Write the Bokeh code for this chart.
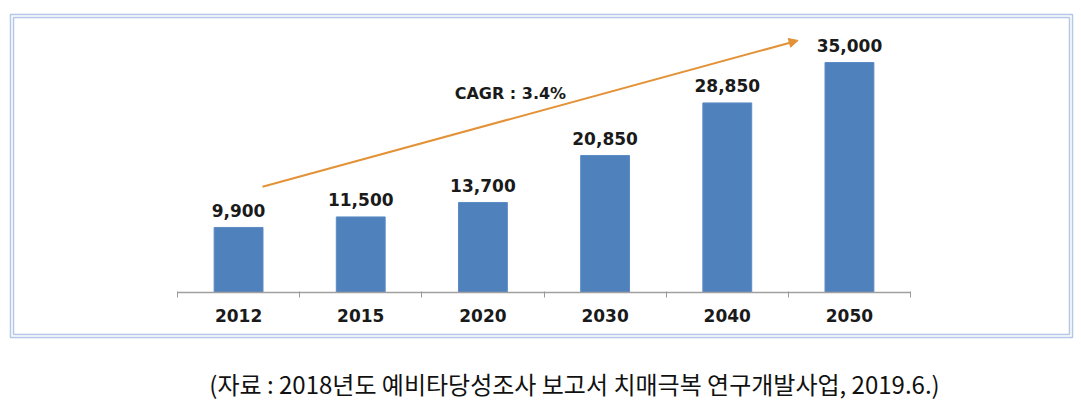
from bokeh.plotting import figure
from bokeh.models import (ColumnDataSource, FixedTicker, Range1d, Label, Arrow,
                          NormalHead, BoxAnnotation)
from bokeh.core.properties import value
from bokeh.embed import file_html
from bokeh.resources import INLINE

# ---- data ----
years = ["2012", "2015", "2020", "2030", "2040", "2050"]
patients = [9900, 11500, 13700, 20850, 28850, 35000]
value_labels = ["9,900", "11,500", "13,700", "20,850", "28,850", "35,000"]
cagr_text = "CAGR : 3.4%"
footnote = "(자료 : 2018년도 예비타당성조사 보고서 치매극복 연구개발사업, 2019.6.)"

# arrow annotation endpoints (data units)
arrow_start = (0.696, 16100)
arrow_end = (5.08, 38350)
cagr_pos = (2.725, 30300)

xc = [i + 0.5 for i in range(len(years))]
src = ColumnDataSource(dict(x=xc, top=patients, lab=value_labels))

W, H = 1081, 401
# frame covers whole canvas; category axis drawn at y=0 inside it
p = figure(width=W, height=H, output_backend="svg", toolbar_location=None,
           x_range=Range1d(-1.4485, 7.3993), y_range=Range1d(-16588, 44438),
           y_axis_location=None, min_border=0)
p.outline_line_color = None
p.grid.visible = False
p.background_fill_color = "white"
p.border_fill_color = "white"

# double frame border (screen units from frame bottom-left)
for (l, t, r, b) in [(10, 387, 1072, 64), (13, 384, 1069, 67)]:
    p.add_layout(BoxAnnotation(left=l, right=r, top=t, bottom=b,
                               left_units="screen", right_units="screen",
                               top_units="screen", bottom_units="screen",
                               fill_alpha=0, line_color="#B4C7E7",
                               line_width=1.5, line_alpha=1,
                               level="underlay"))

p.vbar(x="x", top="top", width=0.4, source=src, fill_color="#4F81BD",
       line_color="#5B8BC5", line_width=1)

p.text(x="x", y="top", text="lab", source=src, text_align="center",
       text_baseline="alphabetic", y_offset=-17,
       text_font=value("DejaVu Sans"), text_font_style="bold",
       text_font_size="17px", text_color="#1a1a1a")

ax = p.xaxis[0]
ax.fixed_location = 0
ax.bounds = (0, 6)
ax.ticker = FixedTicker(ticks=xc, minor_ticks=list(range(7)))
ax.major_label_overrides = {x: y for x, y in zip(xc, years)}
ax.major_tick_in = 0
ax.major_tick_out = 0
ax.minor_tick_in = 1
ax.minor_tick_out = 5
ax.minor_tick_line_color = "#9a9a9a"
ax.axis_line_color = "#a0a0a0"
ax.axis_line_width = 1.5
ax.major_label_standoff = 11
ax.major_label_text_font = "DejaVu Sans"
ax.major_label_text_font_style = "bold"
ax.major_label_text_font_size = "17px"
ax.major_label_text_color = "#1a1a1a"

arrow = Arrow(x_start=arrow_start[0], y_start=arrow_start[1],
              x_end=arrow_end[0], y_end=arrow_end[1],
              line_color="#E39237", line_width=2,
              end=NormalHead(size=9, fill_color="#E39237", line_color="#E39237"))
p.add_layout(arrow)

p.add_layout(Label(x=cagr_pos[0], y=cagr_pos[1], text=cagr_text,
                   text_align="center", text_baseline="middle",
                   text_font="DejaVu Sans", text_font_style="bold",
                   text_font_size="16px", text_color="#1a1a1a"))

p.add_layout(Label(x=574, y=18, x_units="screen", y_units="screen",
                   text=footnote, text_align="center", text_baseline="middle",
                   text_font="Noto Sans CJK KR", text_font_size="24px",
                   text_color="#111111"))

open("out.html", "w").write(file_html(p, INLINE))
